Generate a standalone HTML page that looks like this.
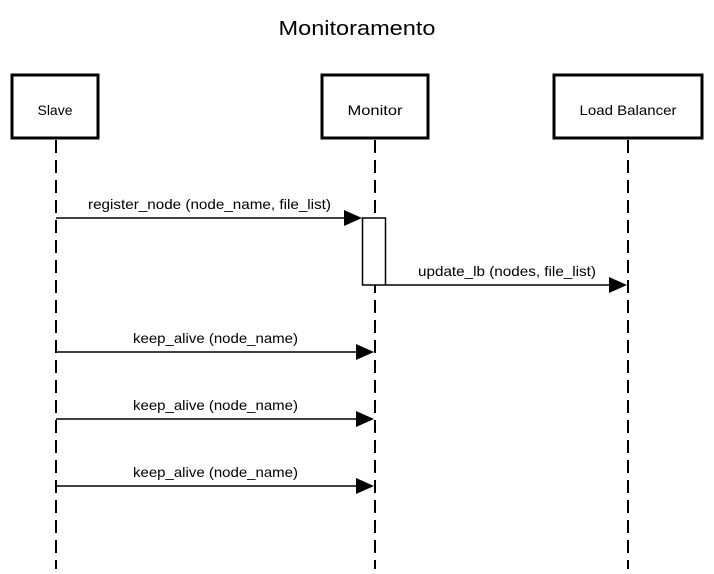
<!DOCTYPE html>
<html><head><style>body{margin:0;background:#fff}</style></head><body>
<svg width="714" height="569" xmlns="http://www.w3.org/2000/svg" font-family="Liberation Sans, DejaVu Sans, sans-serif" font-size="14">
<text x="357" y="35" text-anchor="middle" font-size="20" textLength="157" lengthAdjust="spacingAndGlyphs">Monitoramento</text>
<g fill="#fff" stroke="#000" stroke-width="3">
<rect x="12" y="75" width="86" height="63"/>
<rect x="322" y="75" width="106" height="63"/>
<rect x="554" y="75" width="148" height="63"/>
</g>
<text x="55" y="115" text-anchor="middle" textLength="35" lengthAdjust="spacingAndGlyphs">Slave</text>
<text x="375" y="115" text-anchor="middle" textLength="55" lengthAdjust="spacingAndGlyphs">Monitor</text>
<text x="628" y="115" text-anchor="middle" textLength="97" lengthAdjust="spacingAndGlyphs">Load Balancer</text>
<g stroke="#000" stroke-width="2" stroke-dasharray="13 7">
<line x1="56" y1="140" x2="56" y2="569"/>
<line x1="375" y1="140" x2="375" y2="569"/>
<line x1="628" y1="140" x2="628" y2="569"/>
</g>
<rect x="362.5" y="218" width="23" height="67" fill="#fff" stroke="#000" stroke-width="1.5"/>
<g stroke="#000" stroke-width="1.5">
<line x1="56" y1="218" x2="346" y2="218"/>
<line x1="386" y1="285" x2="612" y2="285"/>
<line x1="56" y1="352" x2="358" y2="352"/>
<line x1="56" y1="419" x2="358" y2="419"/>
<line x1="56" y1="486" x2="358" y2="486"/>
</g>
<g fill="#000">
<polygon points="344,210 362,218 344,226"/>
<polygon points="609,277 627,285 609,293"/>
<polygon points="356,344 374,352 356,360"/>
<polygon points="356,411 374,419 356,427"/>
<polygon points="356,478 374,486 356,494"/>
</g>
<text x="88" y="209" textLength="243" lengthAdjust="spacingAndGlyphs">register_node (node_name, file_list)</text>
<text x="418" y="276" textLength="178" lengthAdjust="spacingAndGlyphs">update_lb (nodes, file_list)</text>
<text x="133" y="343" textLength="165" lengthAdjust="spacingAndGlyphs">keep_alive (node_name)</text>
<text x="133" y="410" textLength="165" lengthAdjust="spacingAndGlyphs">keep_alive (node_name)</text>
<text x="133" y="477" textLength="165" lengthAdjust="spacingAndGlyphs">keep_alive (node_name)</text>
</svg>
</body></html>
